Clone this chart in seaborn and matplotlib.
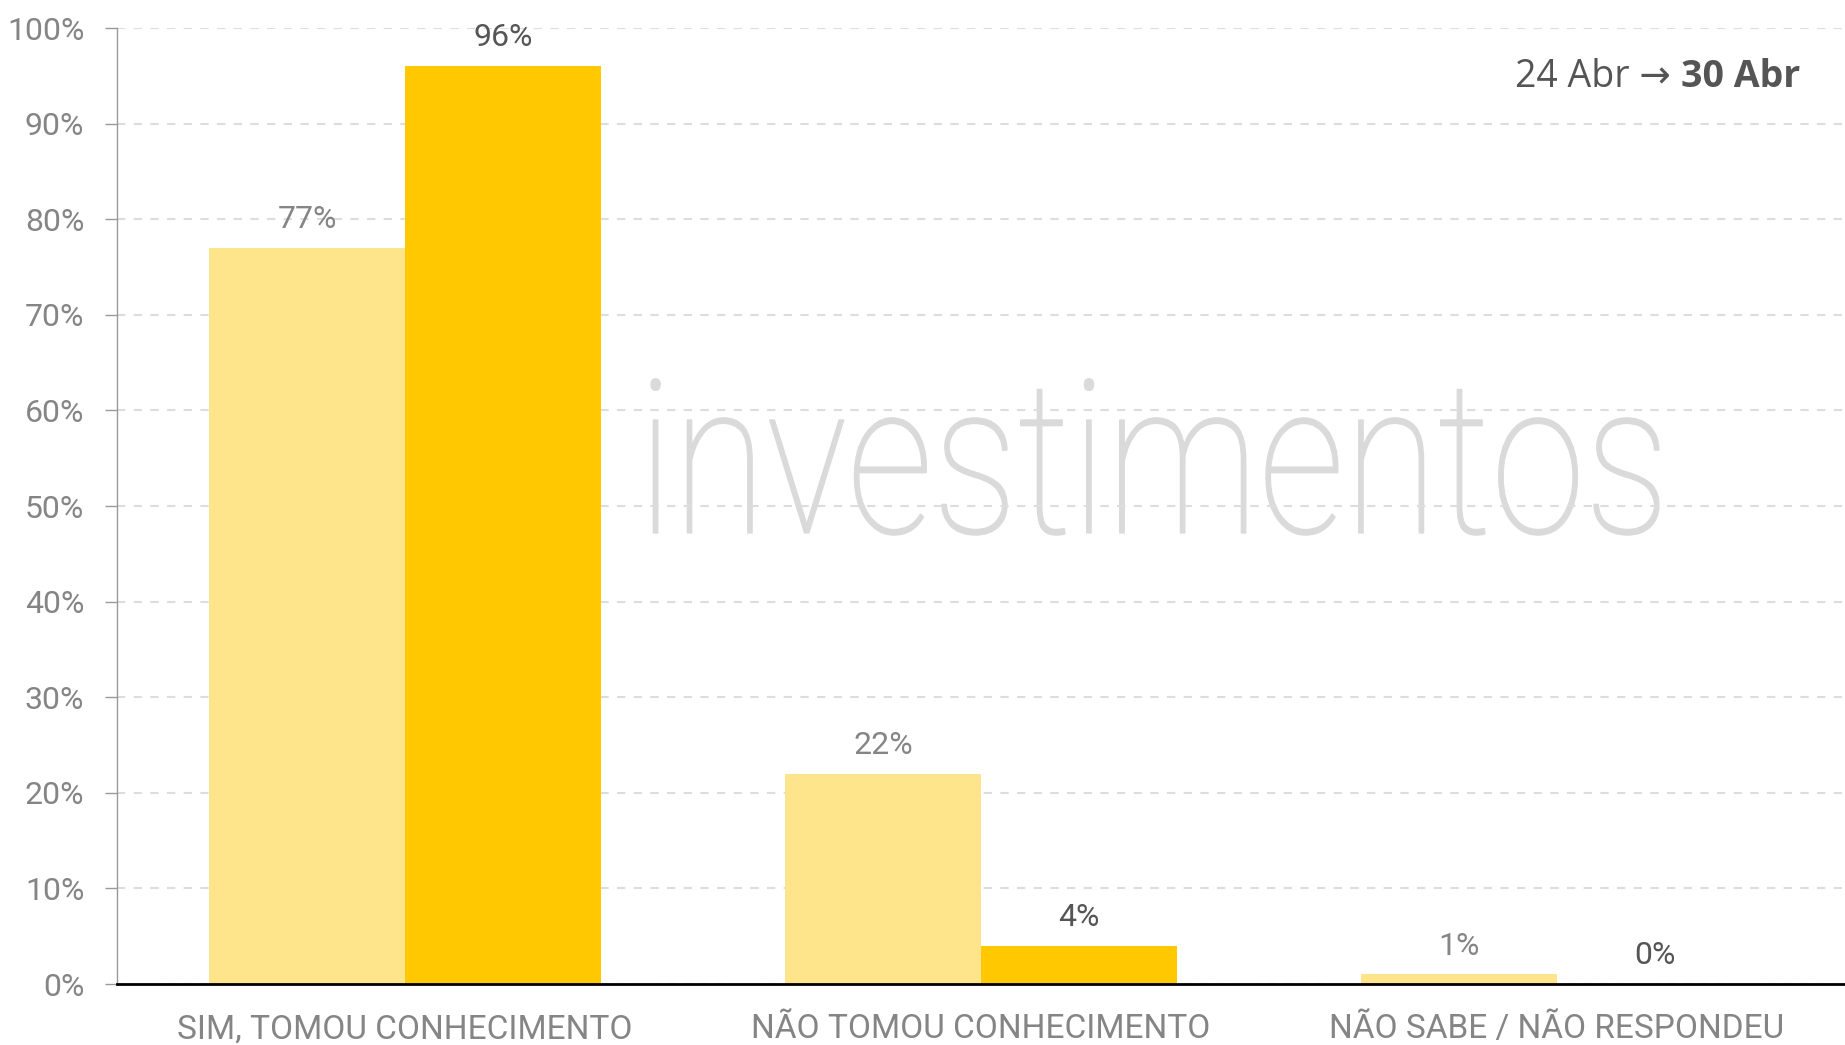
import numpy as np
import pandas as pd
import matplotlib
matplotlib.use("Agg")
import matplotlib.pyplot as plt
import seaborn as sns
from matplotlib.textpath import TextPath
from matplotlib.patches import PathPatch
from matplotlib.font_manager import FontProperties
from matplotlib.transforms import Affine2D

categories = ["SIM, TOMOU CONHECIMENTO", "NÃO TOMOU CONHECIMENTO", "NÃO SABE / NÃO RESPONDEU"]
periods = ["24 Abr", "30 Abr"]
share_24abr = [77, 22, 1]
share_30abr = [96, 4, 0]
yticks = list(range(0, 101, 10))
bar_colors = ["#FEE48B", "#FFC800"]

df = pd.DataFrame({
    "resposta": categories * 2,
    "periodo": [periods[0]] * len(categories) + [periods[1]] * len(categories),
    "pct": share_24abr + share_30abr,
})

sns.set_theme(style="white")
plt.rcParams["font.family"] = ["Roboto", "DejaVu Sans"]
plt.rcParams["font.weight"] = "normal"

W, H = 1845, 1045
fig = plt.figure(figsize=(W / 100, H / 100), dpi=100)
fig.patch.set_facecolor("white")
ax = fig.add_axes([117 / W, 61 / H, 1 - 117 / W, (984 - 28) / H])
ax.patch.set_alpha(0)

sns.barplot(data=df, x="resposta", y="pct", hue="periodo", hue_order=periods,
            palette=bar_colors, width=0.68, saturation=1, linewidth=0,
            legend=False, ax=ax)

# marca d'agua atras da grelha
fp = FontProperties(family="Roboto", weight=100)
tp = TextPath((0, 0), "investimentos", size=1, prop=fp)
ext = tp.get_extents()
sx = 1008 / ext.width
sy = 214
tr = Affine2D().translate(-ext.x0, 0).scale(sx / W, sy / H).translate(651 / W, 512 / H) + fig.transFigure
ax.add_artist(PathPatch(tp, transform=tr, facecolor="#DADADA", edgecolor="#DADADA",
                        linewidth=0.9, zorder=0.3))

ax.set_xlim(-0.5, 2.5)
ax.set_ylim(0, 100)
ax.set_yticks(yticks)
ax.set_yticklabels([f"{t}%" for t in yticks])
ax.set_xlabel("")
ax.set_ylabel("")

ax.yaxis.grid(True, color="#DDDDDD", linestyle=(0, (4, 4)), linewidth=1.5)
ax.set_axisbelow(True)
for s in ["top", "right"]:
    ax.spines[s].set_visible(False)
ax.spines["left"].set_color("#999999")
ax.spines["left"].set_linewidth(1)
ax.spines["bottom"].set_color("black")
ax.spines["bottom"].set_linewidth(2)

tick_grey = "#858585"
ax.tick_params(axis="y", left=True, length=8.5, color="#999999", width=1, pad=15,
               labelsize=23, labelcolor=tick_grey)
ax.tick_params(axis="x", bottom=False, length=0, pad=21, labelsize=24, labelcolor=tick_grey)

ax.bar_label(ax.containers[0], labels=[f"{v}%" for v in share_24abr], padding=10,
             fontsize=23, color=tick_grey)
ax.bar_label(ax.containers[1], labels=[f"{v}%" for v in share_30abr], padding=10,
             fontsize=23, color="#555555")

legend_font = ["Open Sans", "Noto Sans", "DejaVu Sans"]
bold = ax.text((1800 - 117) / 1728, (984 - 87) / 956, "30 Abr", transform=ax.transAxes,
               ha="right", va="baseline", fontsize=27, fontweight="bold", color="#555555",
               family=legend_font)
ax.annotate("24 Abr \u2192 ", xy=(0, 0), xycoords=bold, ha="right", va="bottom",
            fontsize=27, fontweight="normal", color="#555555", family=legend_font)

fig.savefig("out.png", dpi=100)
